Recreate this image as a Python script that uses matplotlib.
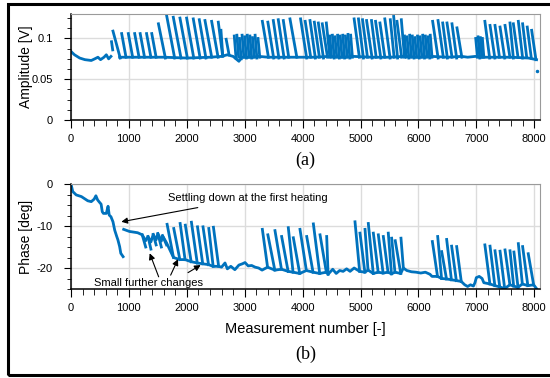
import numpy as np
import matplotlib
matplotlib.use("Agg")
import matplotlib.pyplot as plt
from matplotlib.patches import Rectangle
from matplotlib.ticker import MultipleLocator

plt.rcParams["font.family"] = ["Liberation Sans", "DejaVu Sans"]
plt.rcParams["axes.unicode_minus"] = False

blue = "#0072BD"

# ---- amplitude (top panel) ----
# slow base line between the saw teeth
amp_base_x = [0, 60, 150, 240, 350, 410, 465, 510, 570, 610, 650, 690, np.nan,
              840, 1000, 1300, 1600, 2000, 2400, 2600, 2700, 2800, 2900, 2950, 3100, 3250,
              3400, 3700, 3950, 4200, 4450, 4700, 4880, 5200, 5500, 5740, 6000, 6230,
              6500, 6750, 6850, 6983, 7100, 7300, 7600, 7900, 8040]
amp_base_y = [0.084, 0.080, 0.076, 0.074, 0.073, 0.075, 0.077, 0.074, 0.077, 0.080, 0.075, 0.078, np.nan,
              0.077, 0.077, 0.077, 0.077, 0.076, 0.077, 0.078, 0.080, 0.078, 0.072, 0.077, 0.077, 0.078,
              0.077, 0.077, 0.077, 0.077, 0.078, 0.077, 0.078, 0.077, 0.077, 0.078, 0.077, 0.078,
              0.077, 0.078, 0.077, 0.078, 0.077, 0.077, 0.077, 0.076, 0.074]

# saw teeth: start, top value, end, bottom value
amp_t_start = [700, 725, 875, 990, 1100, 1195, 1305, 1395, 1510,
               1652, 1767, 1882, 1997, 2112, 2216, 2314, 2429, 2544, 2590, 2680,
               2820, 2865, 2910, 2955, 3000, 3045, 3090, 3135, 3180, 3230,
               3305, 3400, 3494, 3580, 3667, 3782, 3965, 4045, 4128, 4203, 4272, 4340, 4410,
               4470, 4515, 4560, 4605, 4650, 4695, 4740, 4785, 4830,
               4890, 4965, 5035, 5105, 5190, 5260, 5336, 5420, 5515, 5573, 5630, 5705,
               5760, 5805, 5850, 5895, 5940, 5985, 6030, 6075, 6120, 6165, 6205,
               6246, 6339, 6420, 6494, 6580, 6666,
               6990, 7030, 7070, 7105,
               7148, 7237, 7323, 7410, 7496, 7582, 7640, 7726, 7800, 7880, 7956]
amp_t_top = [0.096, 0.109, 0.106, 0.106, 0.106, 0.106, 0.106, 0.106, 0.118,
             0.128, 0.126, 0.125, 0.125, 0.124, 0.123, 0.122, 0.121, 0.120, 0.110, 0.099,
             0.103, 0.104, 0.100, 0.104, 0.102, 0.104, 0.103, 0.101, 0.104, 0.100,
             0.121, 0.120, 0.122, 0.123, 0.122, 0.124, 0.124, 0.121, 0.122, 0.120, 0.119, 0.118, 0.119,
             0.103, 0.104, 0.102, 0.104, 0.103, 0.104, 0.103, 0.105, 0.104,
             0.124, 0.124, 0.123, 0.122, 0.122, 0.121, 0.119, 0.124, 0.123, 0.127, 0.121, 0.123,
             0.103, 0.102, 0.104, 0.103, 0.101, 0.103, 0.102, 0.104, 0.103, 0.102, 0.104,
             0.121, 0.122, 0.119, 0.119, 0.118, 0.113,
             0.100, 0.102, 0.101, 0.100,
             0.121, 0.116, 0.116, 0.114, 0.116, 0.119, 0.118, 0.121, 0.118, 0.114, 0.110]
amp_t_end = [720, 850, 950, 1065, 1175, 1270, 1380, 1470, 1630,
             1790, 1900, 2010, 2120, 2230, 2330, 2430, 2540, 2620, 2620, 2730,
             2850, 2895, 2940, 2985, 3030, 3075, 3120, 3165, 3210, 3260,
             3410, 3500, 3590, 3680, 3760, 3900, 4070, 4140, 4220, 4290, 4360, 4430, 4470,
             4500, 4545, 4590, 4635, 4680, 4725, 4770, 4815, 4860,
             4980, 5050, 5120, 5200, 5270, 5350, 5420, 5510, 5580, 5640, 5710, 5760,
             5790, 5835, 5880, 5925, 5970, 6015, 6060, 6105, 6150, 6195, 6235,
             6340, 6430, 6500, 6580, 6660, 6750,
             7020, 7060, 7095, 7130,
             7230, 7320, 7400, 7490, 7580, 7640, 7720, 7800, 7870, 7950, 8030]
amp_t_bottom = [0.086, 0.076, 0.077, 0.077, 0.077, 0.077, 0.077, 0.077, 0.076,
                0.076, 0.076, 0.076, 0.076, 0.076, 0.076, 0.077, 0.077, 0.078, 0.080, 0.080,
                0.076, 0.077, 0.075, 0.077, 0.076, 0.077, 0.076, 0.077, 0.076, 0.077,
                0.077, 0.076, 0.076, 0.076, 0.077, 0.077, 0.076, 0.077, 0.076, 0.077, 0.076, 0.077, 0.077,
                0.077, 0.076, 0.077, 0.076, 0.077, 0.076, 0.077, 0.076, 0.077,
                0.077, 0.076, 0.077, 0.076, 0.077, 0.076, 0.077, 0.076, 0.077, 0.076, 0.077, 0.077,
                0.077, 0.076, 0.077, 0.076, 0.077, 0.076, 0.077, 0.076, 0.077, 0.076, 0.077,
                0.076, 0.077, 0.076, 0.077, 0.076, 0.077,
                0.077, 0.076, 0.077, 0.077,
                0.076, 0.076, 0.077, 0.076, 0.077, 0.076, 0.077, 0.076, 0.077, 0.076, 0.074]
amp_stray_x = [8040]
amp_stray_y = [0.0603]

# ---- phase (bottom panel) ----
ph_base_x = [0, 30, 90, 180, 290, 350, 400, 430, 460, 495, 520, 540, 560, 610, 640, 660, 690,
             725, 755, 790, 810, 840, 860, 900, np.nan,
             910, 1010, 1150, 1230, 1290, 1330, 1380, 1420, 1470, 1500, 1560, 1580, 1650,
             1770, 1880, 1970, 2075, 2180, 2275, 2375, 2455, 2550,
             2600, 2660, 2700, 2760, 2830, 2900, 2960, 3005, 3060, 3120, 3180, 3240, 3300,
             3395, 3520, 3635, 3750, 3835, 3950, 4065, 4180, 4295, 4410,
             4440, 4520, 4580, 4640, 4700, 4760, 4820, 4890,
             4985, 5075, 5130, 5220, 5305, 5390, 5475, 5535, 5595, 5695,
             5740, 5800, 5880, 5960, 6040, 6120, 6200, 6235,
             6330, 6400, 6485, 6570, 6655,
             6740, 6800, 6850, 6900, 6950, 6977, 7000, 7050, 7100, 7130,
             7235, 7320, 7405, 7490, 7580, 7645, 7720, 7795, 7890, 7990, 8040]
ph_base_y = [0.0, -1.8, -2.6, -3.0, -4.0, -4.2, -3.6, -2.8, -3.8, -4.4, -4.8, -6.6, -7.0, -7.0, -5.3, -7.4, -7.8,
             -9.0, -11.0, -12.5, -13.3, -14.9, -16.5, -17.3, np.nan,
             -10.8, -11.3, -11.6, -12.1, -13.5, -12.5, -13.8, -12.0, -13.3, -11.8, -13.6, -12.3, -14.0,
             -17.5, -18.0, -18.0, -18.5, -18.8, -19.0, -19.2, -19.6, -19.6,
             -19.8, -18.8, -20.2, -19.6, -20.4, -19.3, -19.0, -18.7, -19.5, -19.4, -19.8, -20.0, -20.5,
             -19.8, -20.5, -20.3, -20.8, -21.0, -21.3, -20.6, -21.0, -21.3, -21.0,
             -21.5, -20.3, -21.3, -20.6, -20.8, -20.2, -20.8, -20.0,
             -20.8, -21.0, -20.5, -21.3, -21.0, -21.2, -21.0, -21.4, -21.0, -21.3,
             -20.0, -20.6, -20.9, -21.0, -21.2, -21.0, -21.5, -22.0,
             -22.0, -22.5, -22.6, -22.8, -23.0,
             -23.2, -24.0, -24.4, -24.0, -24.3, -23.5, -22.3, -22.0, -22.5, -23.5,
             -23.8, -24.2, -24.5, -24.9, -24.0, -24.3, -24.6, -23.8, -24.2, -24.0, -24.9]

ph_t_start = [1230, 1330, 1420, 1500, 1580,
              1660, 1775, 1885, 1975, 2080, 2185, 2280, 2380, 2460,
              3305, 3400, 3523, 3638, 3753, 3840, 3955, 4071, 4186, 4301, 4416,
              4905, 4991, 5078, 5135, 5222, 5308, 5394, 5480, 5538, 5600, 5699,
              6241, 6333, 6402, 6488, 6574, 6661,
              7148, 7237, 7323, 7410, 7496, 7582, 7650, 7726, 7800, 7897]
ph_t_top = [-12.1, -12.5, -12.0, -11.8, -12.3,
            -9.6, -10.6, -9.4, -9.8, -9.1, -10.2, -10.2, -10.6, -10.3,
            -10.8, -12.1, -11.1, -12.5, -10.4, -12.8, -10.8, -12.5, -9.5, -12.1, -12.5,
            -9.0, -11.7, -10.8, -9.4, -11.7, -12.1, -12.5, -11.7, -12.9, -13.5, -12.9,
            -13.7, -12.5, -16.1, -13.2, -14.8, -14.9,
            -14.5, -14.8, -15.9, -16.0, -15.7, -15.9, -16.2, -14.2, -14.9, -16.6]
ph_t_end = [1290, 1380, 1470, 1560, 1650,
            1770, 1880, 1970, 2075, 2180, 2275, 2375, 2455, 2550,
            3395, 3520, 3635, 3750, 3835, 3950, 4065, 4180, 4295, 4410, 4440,
            4985, 5075, 5130, 5220, 5305, 5390, 5475, 5535, 5595, 5695, 5740,
            6330, 6400, 6485, 6570, 6655, 6740,
            7235, 7320, 7405, 7490, 7580, 7645, 7720, 7795, 7890, 7990]
ph_t_bottom = [-15.0, -15.5, -14.5, -15.0, -14.5,
               -17.5, -18.0, -18.0, -18.5, -18.8, -19.0, -19.2, -19.6, -19.6,
               -19.8, -20.5, -20.3, -20.8, -21.0, -21.3, -20.6, -21.0, -21.3, -21.0, -21.5,
               -20.8, -21.0, -20.5, -21.3, -21.0, -21.2, -21.0, -21.4, -21.0, -21.3, -20.0,
               -22.0, -22.5, -22.6, -22.8, -23.0, -23.2,
               -23.8, -24.2, -24.5, -24.9, -24.0, -24.3, -24.6, -23.8, -24.2, -24.0]

# ---- figure ----
fig = plt.figure(figsize=(5.5, 3.78), dpi=100)
ax1 = fig.add_axes([71 / 550, 1 - 120 / 378, 469 / 550, 106 / 378])
ax2 = fig.add_axes([71 / 550, 1 - 289 / 378, 469 / 550, 105 / 378])

lw = 2.0
ax1.plot(amp_base_x, amp_base_y, color=blue, lw=lw)
for s, t, e, b in zip(amp_t_start, amp_t_top, amp_t_end, amp_t_bottom):
    ax1.plot([s, e], [t, b], color=blue, lw=lw)
ax1.plot(amp_stray_x, amp_stray_y, ".", color=blue, ms=3)

ax2.plot(ph_base_x, ph_base_y, color=blue, lw=lw)
for s, t, e, b in zip(ph_t_start, ph_t_top, ph_t_end, ph_t_bottom):
    ax2.plot([s, e], [t, b], color=blue, lw=lw)

for ax in (ax1, ax2):
    ax.set_xlim(0, 8100)
    ax.xaxis.set_major_locator(MultipleLocator(1000))
    ax.xaxis.set_minor_locator(MultipleLocator(200))
    ax.grid(True, which="major", color="#dcdcdc", lw=1.0)
    ax.set_axisbelow(True)
    ax.spines["top"].set_color("#9a9a9a")
    ax.spines["right"].set_color("#9a9a9a")
    ax.spines["left"].set_linewidth(1.1)
    ax.spines["bottom"].set_linewidth(1.1)
    ax.tick_params(axis="both", which="both", direction="out", labelsize=8, colors="black")
    ax.tick_params(axis="x", which="major", length=6, pad=4)
    ax.tick_params(axis="x", which="minor", length=4)
    ax.tick_params(axis="y", which="major", length=5, pad=8)
    ax.tick_params(axis="y", which="minor", length=3)

ax1.set_ylim(0, 0.13)
ax1.yaxis.set_major_locator(MultipleLocator(0.05))
ax1.yaxis.set_minor_locator(MultipleLocator(0.0125))
ax1.set_yticks([0, 0.05, 0.1])
ax1.set_yticklabels(["0", "0.05", "0.1"])
ax1.set_ylabel("Amplitude [V]", fontsize=10)
ax1.yaxis.set_label_coords(-0.08, 0.5)

ax2.set_ylim(-25, 0)
ax2.yaxis.set_major_locator(MultipleLocator(10))
ax2.yaxis.set_minor_locator(MultipleLocator(2.5))
ax2.set_ylabel("Phase [deg]", fontsize=10)
ax2.yaxis.set_label_coords(-0.08, 0.5)
ax2.set_xlabel("Measurement number [-]", fontsize=10.5)
ax2.xaxis.set_label_coords(0.5, -0.31)

ax2.annotate("Settling down at the first heating", xy=(869, -9.0), xytext=(1675, -3.4),
             fontsize=8, va="center", ha="left",
             arrowprops=dict(arrowstyle="-|>", color="black", lw=0.8, mutation_scale=9,
                             shrinkA=6, shrinkB=0))
ax2.text(1338, -23.5, "Small further changes", fontsize=8, ha="center", va="center")
for tail, head in [((1514, -22.1), (1359, -16.5)), ((1721, -21.7), (1848, -17.9)),
                   ((2021, -21.1), (2240, -19.3))]:
    ax2.annotate("", xy=head, xytext=tail,
                 arrowprops=dict(arrowstyle="-|>", color="black", lw=0.8, mutation_scale=9,
                                 shrinkA=0, shrinkB=0))

fig.text(305 / 550, 1 - 160 / 378, "(a)", family="Liberation Serif", fontsize=13,
         ha="center", va="center")
fig.text(306 / 550, 1 - 354 / 378, "(b)", family="Liberation Serif", fontsize=13,
         ha="center", va="center")

# outer frame, its right edge falls outside the picture
fig.patches.append(Rectangle((8 / 550, 3 / 378), 1.2, 371 / 378, transform=fig.transFigure,
                             fill=False, edgecolor="black", lw=2.2))

fig.savefig("out.png", dpi=100)
